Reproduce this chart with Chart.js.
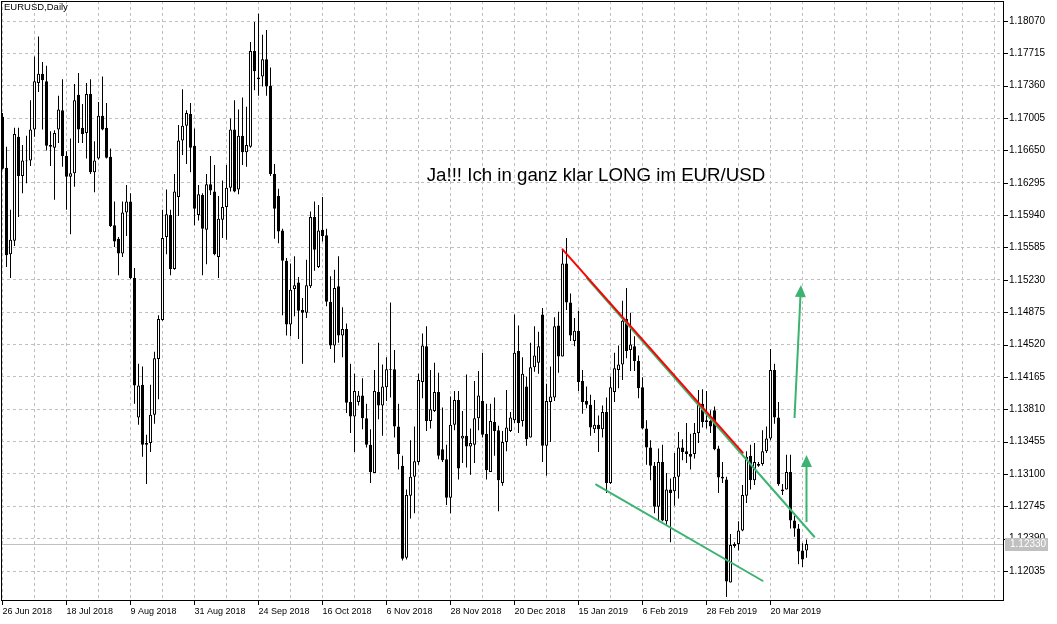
<!DOCTYPE html>
<html><head><meta charset="utf-8">
<script src="https://cdn.jsdelivr.net/npm/chart.js@4.4.1/dist/chart.umd.min.js"></script>
<style>html,body{margin:0;padding:0;background:#fff;}canvas{display:block;}</style>
</head><body>
<canvas id="c" width="1057" height="624"></canvas>
<script>
// ---- data (EURUSD daily) ----
const opens=[1.1702,1.1646,1.1551,1.1566,1.1680,1.1637,1.1654,1.1654,1.1688,1.1739,1.1749,1.1741,1.1671,1.1668,1.1688,1.1709,1.1659,1.1636,1.1640,1.1726,1.1690,1.1684,1.1727,1.1641,1.1656,1.1703,1.1690,1.1658,1.1583,1.1568,1.1552,1.1597,1.1609,1.1525,1.1372,1.1408,1.1344,1.1344,1.1375,1.1436,1.1479,1.1570,1.1594,1.1535,1.1614,1.1676,1.1692,1.1705,1.1670,1.1594,1.1616,1.1578,1.1628,1.1620,1.1548,1.1589,1.1603,1.1624,1.1688,1.1622,1.1681,1.1663,1.1669,1.1774,1.1743,1.1746,1.1765,1.1736,1.1639,1.1615,1.1577,1.1544,1.1474,1.1513,1.1520,1.1490,1.1487,1.1516,1.1592,1.1537,1.1578,1.1572,1.1499,1.1451,1.1516,1.1462,1.1469,1.1389,1.1373,1.1389,1.1396,1.1371,1.1342,1.1311,1.1400,1.1385,1.1405,1.1425,1.1425,1.1362,1.1319,1.1218,1.1286,1.1307,1.1323,1.1411,1.1450,1.1368,1.1379,1.1400,1.1337,1.1326,1.1284,1.1364,1.1391,1.1349,1.1352,1.1340,1.1342,1.1371,1.1390,1.1354,1.1312,1.1367,1.1358,1.1300,1.1345,1.1357,1.1369,1.1445,1.1368,1.1406,1.1350,1.1427,1.1432,1.1485,1.1341,1.1389,1.1394,1.1473,1.1439,1.1541,1.1498,1.1456,1.1467,1.1412,1.1390,1.1386,1.1359,1.1364,1.1359,1.1378,1.1300,1.1400,1.1424,1.1430,1.1480,1.1446,1.1450,1.1434,1.1405,1.1360,1.1339,1.1319,1.1274,1.1323,1.1258,1.1293,1.1291,1.1307,1.1339,1.1335,1.1332,1.1332,1.1355,1.1387,1.1369,1.1368,1.1380,1.1338,1.1307,1.1304,1.1191,1.1231,1.1233,1.1248,1.1286,1.1330,1.1303,1.1321,1.1321,1.1335,1.1349,1.1424,1.1372,1.1293,1.1293,1.1312,1.1259,1.1250,1.1226,1.1226];
const highs=[1.1706,1.1669,1.1600,1.1690,1.1690,1.1671,1.1681,1.1720,1.1768,1.1790,1.1762,1.1758,1.1686,1.1687,1.1725,1.1743,1.1664,1.1678,1.1738,1.1750,1.1716,1.1739,1.1743,1.1675,1.1718,1.1746,1.1717,1.1667,1.1609,1.1570,1.1609,1.1627,1.1618,1.1536,1.1431,1.1428,1.1353,1.1408,1.1444,1.1484,1.1600,1.1622,1.1600,1.1639,1.1693,1.1732,1.1709,1.1717,1.1689,1.1627,1.1618,1.1639,1.1659,1.1649,1.1615,1.1632,1.1649,1.1700,1.1720,1.1710,1.1723,1.1713,1.1784,1.1806,1.1815,1.1792,1.1797,1.1756,1.1650,1.1623,1.1579,1.1547,1.1541,1.1549,1.1526,1.1503,1.1545,1.1598,1.1609,1.1605,1.1614,1.1579,1.1527,1.1534,1.1549,1.1493,1.1475,1.1431,1.1420,1.1401,1.1415,1.1387,1.1359,1.1424,1.1454,1.1430,1.1438,1.1498,1.1446,1.1387,1.1330,1.1293,1.1347,1.1362,1.1420,1.1464,1.1472,1.1424,1.1432,1.1421,1.1383,1.1342,1.1395,1.1401,1.1401,1.1379,1.1419,1.1360,1.1412,1.1423,1.1443,1.1387,1.1387,1.1394,1.1363,1.1357,1.1402,1.1378,1.1485,1.1473,1.1438,1.1417,1.1454,1.1472,1.1466,1.1492,1.1409,1.1428,1.1482,1.1488,1.1556,1.1569,1.1508,1.1481,1.1489,1.1424,1.1406,1.1397,1.1391,1.1374,1.1385,1.1394,1.1417,1.1443,1.1451,1.1500,1.1514,1.1487,1.1461,1.1440,1.1416,1.1369,1.1347,1.1323,1.1338,1.1342,1.1311,1.1305,1.1333,1.1356,1.1348,1.1366,1.1354,1.1366,1.1402,1.1403,1.1401,1.1380,1.1384,1.1341,1.1323,1.1307,1.1244,1.1235,1.1258,1.1298,1.1335,1.1342,1.1344,1.1323,1.1358,1.1362,1.1447,1.1431,1.1389,1.1299,1.1331,1.1331,1.1264,1.1255,1.1234,1.1238];
const lows=[1.1644,1.1537,1.1525,1.1560,1.1592,1.1618,1.1629,1.1648,1.1680,1.1729,1.1688,1.1665,1.1648,1.1611,1.1673,1.1647,1.1600,1.1573,1.1625,1.1673,1.1673,1.1656,1.1639,1.1619,1.1655,1.1687,1.1656,1.1581,1.1559,1.1528,1.1548,1.1571,1.1524,1.1387,1.1364,1.1329,1.1299,1.1334,1.1365,1.1392,1.1478,1.1551,1.1528,1.1534,1.1593,1.1660,1.1650,1.1641,1.1583,1.1588,1.1528,1.1540,1.1616,1.1550,1.1525,1.1569,1.1567,1.1620,1.1619,1.1617,1.1649,1.1647,1.1668,1.1731,1.1725,1.1735,1.1725,1.1637,1.1568,1.1563,1.1484,1.1462,1.1461,1.1483,1.1458,1.1431,1.1481,1.1514,1.1533,1.1536,1.1565,1.1494,1.1447,1.1432,1.1454,1.1438,1.1377,1.1355,1.1334,1.1385,1.1359,1.1339,1.1300,1.1311,1.1370,1.1352,1.1390,1.1394,1.1350,1.1315,1.1215,1.1216,1.1261,1.1267,1.1320,1.1393,1.1357,1.1360,1.1378,1.1326,1.1323,1.1276,1.1267,1.1358,1.1304,1.1322,1.1317,1.1309,1.1322,1.1358,1.1350,1.1304,1.1312,1.1330,1.1269,1.1297,1.1335,1.1356,1.1366,1.1355,1.1362,1.1341,1.1350,1.1422,1.1420,1.1323,1.1308,1.1345,1.1390,1.1421,1.1439,1.1490,1.1456,1.1450,1.1401,1.1376,1.1382,1.1352,1.1355,1.1334,1.1350,1.1289,1.1299,1.1389,1.1404,1.1413,1.1437,1.1423,1.1423,1.1393,1.1359,1.1320,1.1303,1.1267,1.1258,1.1258,1.1254,1.1235,1.1275,1.1283,1.1325,1.1322,1.1315,1.1327,1.1344,1.1361,1.1360,1.1355,1.1336,1.1289,1.1300,1.1175,1.1191,1.1229,1.1226,1.1247,1.1278,1.1293,1.1298,1.1318,1.1319,1.1333,1.1347,1.1365,1.1297,1.1287,1.1293,1.1250,1.1241,1.1211,1.1208,1.1218];
const closes=[1.1645,1.1550,1.1567,1.1683,1.1637,1.1654,1.1653,1.1688,1.1741,1.1749,1.1742,1.1670,1.1669,1.1684,1.1710,1.1659,1.1636,1.1640,1.1720,1.1688,1.1683,1.1727,1.1641,1.1654,1.1703,1.1688,1.1657,1.1582,1.1565,1.1552,1.1597,1.1609,1.1525,1.1407,1.1407,1.1342,1.1342,1.1375,1.1437,1.1480,1.1569,1.1595,1.1535,1.1620,1.1676,1.1692,1.1706,1.1668,1.1601,1.1617,1.1579,1.1628,1.1621,1.1551,1.1590,1.1603,1.1624,1.1688,1.1620,1.1681,1.1663,1.1671,1.1774,1.1752,1.1745,1.1765,1.1735,1.1639,1.1601,1.1576,1.1544,1.1474,1.1512,1.1517,1.1489,1.1487,1.1517,1.1592,1.1556,1.1577,1.1571,1.1499,1.1451,1.1514,1.1462,1.1469,1.1388,1.1373,1.1401,1.1396,1.1371,1.1342,1.1312,1.1401,1.1385,1.1406,1.1425,1.1424,1.1362,1.1332,1.1217,1.1287,1.1307,1.1324,1.1413,1.1451,1.1368,1.1381,1.1400,1.1330,1.1325,1.1284,1.1364,1.1391,1.1316,1.1352,1.1340,1.1344,1.1371,1.1396,1.1353,1.1314,1.1368,1.1357,1.1303,1.1345,1.1361,1.1372,1.1443,1.1366,1.1420,1.1348,1.1427,1.1440,1.1450,1.1341,1.1390,1.1395,1.1472,1.1439,1.1541,1.1498,1.1462,1.1467,1.1411,1.1389,1.1386,1.1361,1.1364,1.1359,1.1378,1.1300,1.1405,1.1426,1.1430,1.1478,1.1445,1.1452,1.1434,1.1404,1.1360,1.1339,1.1319,1.1274,1.1323,1.1259,1.1293,1.1289,1.1307,1.1339,1.1334,1.1332,1.1329,1.1355,1.1386,1.1367,1.1367,1.1362,1.1337,1.1306,1.1305,1.1192,1.1232,1.1233,1.1248,1.1287,1.1329,1.1303,1.1323,1.1319,1.1335,1.1349,1.1424,1.1372,1.1299,1.1291,1.1312,1.1259,1.1250,1.1225,1.1216,1.1233];
const dateLabels=['26 Jun 2018','18 Jul 2018','9 Aug 2018','31 Aug 2018','24 Sep 2018','16 Oct 2018','6 Nov 2018','28 Nov 2018','20 Dec 2018','15 Jan 2019','6 Feb 2019','28 Feb 2019','20 Mar 2019'];
const priceTicks=[1.12035,1.12390,1.12745,1.13100,1.13455,1.13810,1.14165,1.14520,1.14875,1.15230,1.15585,1.15940,1.16295,1.16650,1.17005,1.17360,1.17715,1.18070];
const lastPrice=1.12330;
const chartTitle='EURUSD,Daily';
const noteText='Ja!!! Ich in ganz klar LONG im EUR/USD';
const notePos=[106.05,1.16314];
const redLine=[[140.0,1.15565],[185.05,1.13333]];
const greenLines=[[[146.1,1.15250],[202.95,1.12411]],[[148.4,1.12984],[190.0,1.11928]]];
const greenArrows=[[[198.0,1.13714],[199.625,1.15173]],[[201.0,1.12572],[201.0,1.13308]]];

// ---- rendering ----
const FONT='"Liberation Sans",Arial,sans-serif';
const idx=opens.map((_,i)=>i);
const GREEN='#3cb371';
function noPad(s){s.paddingTop=0;s.paddingBottom=0;s.paddingLeft=0;s.paddingRight=0;}

const mt4={
  id:'mt4',
  beforeDatasetsDraw(chart){
    const {ctx,chartArea:a,scales:{y}}=chart;
    const py=Math.round(y.getPixelForValue(lastPrice))+0.5;
    ctx.save();ctx.strokeStyle='#c0c0c0';ctx.lineWidth=1;
    ctx.beginPath();ctx.moveTo(a.left,py);ctx.lineTo(a.right,py);ctx.stroke();ctx.restore();
  },
  afterDatasetsDraw(chart){
    const {ctx,chartArea:a,scales:{x,y}}=chart;
    const P=p=>[x.getPixelForValue(p[0]),y.getPixelForValue(p[1])];
    ctx.save();
    ctx.beginPath();ctx.rect(a.left,a.top,a.right-a.left,a.bottom-a.top);ctx.clip();
    ctx.lineCap='round';
    ctx.strokeStyle=GREEN;ctx.lineWidth=2;
    greenLines.forEach(l=>{const s=P(l[0]),e=P(l[1]);ctx.beginPath();ctx.moveTo(s[0],s[1]);ctx.lineTo(e[0],e[1]);ctx.stroke();});
    ctx.strokeStyle='#ff0000';ctx.lineWidth=2;
    {const s=P(redLine[0]),e=P(redLine[1]);ctx.beginPath();ctx.moveTo(s[0],s[1]);ctx.lineTo(e[0],e[1]);ctx.stroke();}
    greenArrows.forEach(ar=>{
      const s=P(ar[0]),t=P(ar[1]);
      const dx=t[0]-s[0],dy=t[1]-s[1],L=Math.hypot(dx,dy),ux=dx/L,uy=dy/L;
      const hl=12,hw=5.5;
      const bx=t[0]-ux*hl,by=t[1]-uy*hl;
      ctx.strokeStyle=GREEN;ctx.lineWidth=2;ctx.lineCap='butt';
      ctx.beginPath();ctx.moveTo(s[0],s[1]);ctx.lineTo(bx+ux*1,by+uy*1);ctx.stroke();
      ctx.fillStyle=GREEN;ctx.beginPath();
      ctx.moveTo(t[0],t[1]);ctx.lineTo(bx-uy*hw,by+ux*hw);ctx.lineTo(bx+uy*hw,by-ux*hw);ctx.closePath();ctx.fill();
    });
    const np=P(notePos);
    ctx.fillStyle='#000';ctx.font='18.7px "Liberation Sans",Arial,sans-serif';ctx.textBaseline='alphabetic';ctx.textAlign='left';
    ctx.fillText(noteText,np[0],np[1]);
    ctx.restore();
  },
  afterDraw(chart){
    const {ctx,chartArea:a,scales:{x,y}}=chart;
    ctx.save();
    ctx.strokeStyle='#000';ctx.lineWidth=1;
    ctx.strokeRect(a.left+0.5,a.top+0.5,a.right-a.left-1,a.bottom-a.top);
    ctx.beginPath();
    priceTicks.forEach(v=>{const py=Math.round(y.getPixelForValue(v))+0.5;ctx.moveTo(a.right,py);ctx.lineTo(a.right+4,py);});
    dateLabels.forEach((_,k)=>{const px=Math.round(x.getPixelForValue(k*16)-0.5)+0.5;ctx.moveTo(px,a.bottom);ctx.lineTo(px,a.bottom+5);});
    ctx.stroke();
    const py=Math.round(y.getPixelForValue(lastPrice));
    ctx.fillStyle='#c0c0c0';ctx.fillRect(a.right+1,py-6,43,13);
    ctx.fillStyle='#fff';ctx.font='10px '+FONT;ctx.textBaseline='middle';ctx.textAlign='left';
    ctx.fillText(lastPrice.toFixed(5),a.right+6,py+0.5);
    ctx.fillStyle='#000';ctx.textBaseline='top';ctx.font='9.5px '+FONT;
    ctx.fillText(chartTitle,a.left+3,a.top+2);
    ctx.restore();
  }
};

new Chart(document.getElementById('c').getContext('2d'),{
  type:'bar',
  data:{datasets:[
    {label:'wick',data:idx.map(i=>({x:i,y:[lows[i],highs[i]]})),backgroundColor:'#000',borderWidth:0,
     barThickness:1,inflateAmount:0,grouped:false,order:1},
    {label:'body',data:idx.map(i=>({x:i,y:[Math.min(opens[i],closes[i]),Math.max(opens[i],closes[i])]})),
     backgroundColor:idx.map(i=>closes[i]>=opens[i]?'#ffffff':'#000000'),borderColor:'#000',borderWidth:1,
     borderSkipped:false,barThickness:3,inflateAmount:0,grouped:false,order:0}
  ]},
  options:{
    responsive:false,animation:false,devicePixelRatio:1,
    layout:{padding:{left:1,top:1,right:0,bottom:0}},
    plugins:{legend:{display:false},tooltip:{enabled:false},title:{display:false}},
    scales:{
      x:{type:'linear',position:'bottom',min:-0.375,max:250.375,offset:false,
        afterBuildTicks(s){const t=[];for(let v=0;v<=248;v+=8)t.push({value:v});s.ticks=t;},
        afterFit(s){s.height=24;noPad(s);},
        grid:{color:'#c0c0c0',lineWidth:1,drawTicks:false,offset:false},
        border:{display:false,dash:[3,3]},
        ticks:{autoSkip:false,maxRotation:0,minRotation:0,align:'start',padding:6,color:'#000',
          font:{family:FONT,size:9},
          callback:(v)=>(v%16===0&&v/16<dateLabels.length)?dateLabels[v/16]:''}
      },
      y:{type:'linear',position:'right',min:1.117168,max:1.182895,
        afterBuildTicks(s){s.ticks=priceTicks.map(v=>({value:v}));},
        afterFit(s){s.width=53;noPad(s);},
        grid:{color:'#c0c0c0',lineWidth:1,drawTicks:false},
        border:{display:false,dash:[3,3]},
        ticks:{padding:5,color:'#000',font:{family:FONT,size:10},callback:(v)=>Number(v).toFixed(5)}
      }
    }
  },
  plugins:[mt4]
});
</script>
</body></html>
